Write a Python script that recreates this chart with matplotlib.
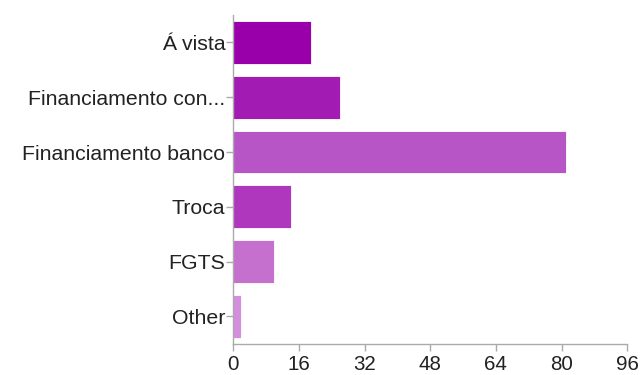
import matplotlib
matplotlib.use("Agg")
import matplotlib.pyplot as plt

categories = ["Á vista", "Financiamento con...", "Financiamento banco", "Troca", "FGTS", "Other"]
values = [19, 26, 81, 14, 10, 2]
colors = ["#9900aa", "#a21bb3", "#b755c7", "#ae37be", "#c570cf", "#d48edd"]
xticks = [0, 16, 32, 48, 64, 80, 96]

plt.rcParams['font.family'] = ['Liberation Sans', 'DejaVu Sans']

fig = plt.figure(figsize=(6.44, 3.75), dpi=100)
ax = fig.add_axes([0.362, 0.083, 0.612, 0.877])

pos = list(range(len(categories)))
ax.barh(pos, values, height=0.78, color=colors, edgecolor="#ffffff", linewidth=0.6)

ax.set_ylim(len(categories) - 0.5, -0.5)
ax.set_xlim(0, 96)
ax.set_yticks(pos)
ax.set_yticklabels(categories, fontsize=15.3, color="#222222")
ax.set_xticks(xticks)
ax.set_xticklabels([str(t) for t in xticks], fontsize=14.8, color="#222222")

for s in ["top", "right"]:
    ax.spines[s].set_visible(False)
for s in ["left", "bottom"]:
    ax.spines[s].set_color("#aaaaaa")
    ax.spines[s].set_linewidth(1)
ax.tick_params(axis="both", colors="#aaaaaa", length=5, width=1, labelcolor="#222222")
ax.tick_params(axis="y", pad=0.5)
ax.tick_params(axis="x", pad=3)

fig.savefig("out.png", dpi=100, facecolor="white")
